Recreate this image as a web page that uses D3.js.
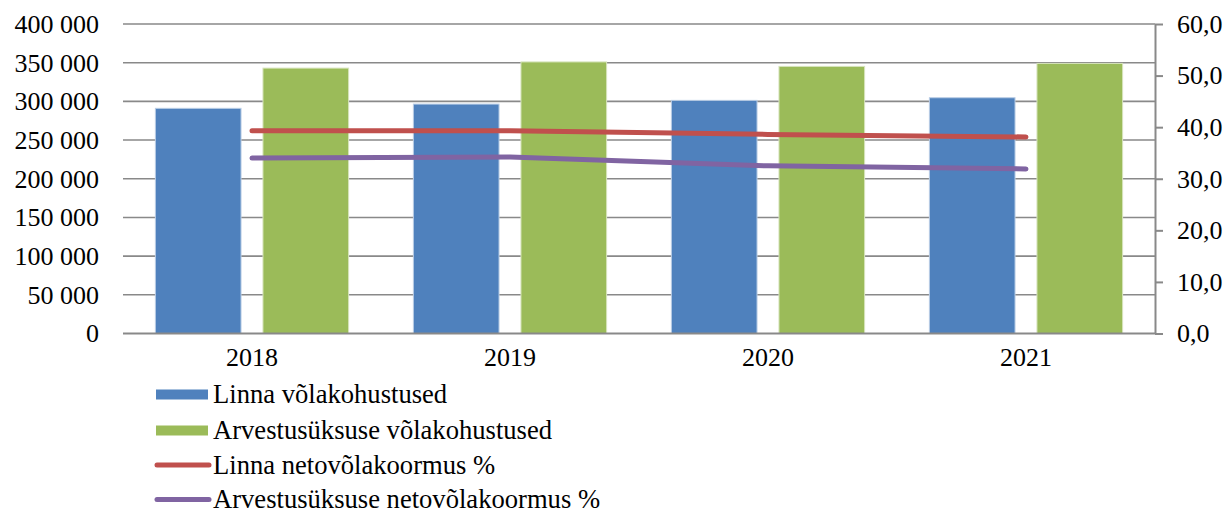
<!DOCTYPE html>
<meta charset="utf-8">
<title>Võlakohustused</title>
<style>
body { margin: 0; background: #fff; }
svg { display: block; font-family: "Liberation Serif", "Times New Roman", serif; }
.grid line { stroke: #898989; stroke-width: 1.6; }
.axis text { font-family: "Liberation Serif", "Times New Roman", serif; font-size: 26px; fill: #000; }
.legend text { font-size: 26.6px; fill: #000; }
</style>
<svg width="1227" height="513"></svg>
<script src="https://d3js.org/d3.v7.min.js"></script>
<script>
const years = ["2018", "2019", "2020", "2021"];
const linnaVolg = [291000, 296500, 301300, 304700];
const arvVolg = [343000, 351000, 345200, 349100];
const linnaKoormus = [39.3, 39.3, 38.6, 38.1];
const arvKoormus = [34.0, 34.2, 32.5, 31.9];
const leftTicks = [0, 50000, 100000, 150000, 200000, 250000, 300000, 350000, 400000];
const rightTicks = [0, 10, 20, 30, 40, 50, 60];

const barSeries = [
  { name: "Linna võlakohustused", values: linnaVolg, color: "#4f81bd", edge: "#b9cde5" },
  { name: "Arvestusüksuse võlakohustused", values: arvVolg, color: "#9bbb59", edge: "#d7e4bd" }
];
const lineSeries = [
  { name: "Linna netovõlakoormus %", values: linnaKoormus, color: "#c0504d" },
  { name: "Arvestusüksuse netovõlakoormus %", values: arvKoormus, color: "#8064a2" }
];

const loc = d3.formatLocale({ decimal: ",", thousands: "\u00a0", grouping: [3], currency: ["", ""] });
const fmtLeft = loc.format(",d");
const fmtRight = loc.format(".1f");

const svg = d3.select("svg");
const plotL = 123, plotR = 1155, plotT = 24, plotB = 333.5;

const x = d3.scaleBand().domain(years).range([plotL, plotR]).paddingInner(0).paddingOuter(0);
const yL = d3.scaleLinear().domain([0, 400000]).range([plotB, plotT]);
const yR = d3.scaleLinear().domain([0, 60]).range([plotB, plotT]);

// bar geometry inside each category
const bw = x.bandwidth();
const barW = bw * 0.332;
const innerGap = bw * 0.085;
const x1 = d3.scaleBand().domain([0, 1]).range([0, 2 * barW + innerGap]).paddingInner(innerGap / (barW + innerGap)).paddingOuter(0);
const groupOffset = (bw - (2 * barW + innerGap)) / 2;

// gridlines
svg.append("g").attr("class", "grid")
  .selectAll("line").data(leftTicks.filter(d => d > 0)).enter().append("line")
  .attr("x1", plotL).attr("x2", plotR)
  .attr("y1", d => yL(d)).attr("y2", d => yL(d));

// bars
barSeries.forEach((s, i) => {
  svg.append("g").selectAll("rect").data(s.values).enter().append("rect")
    .attr("x", (d, j) => x(years[j]) + groupOffset + x1(i))
    .attr("width", x1.bandwidth())
    .attr("y", d => yL(d))
    .attr("height", d => yL(0) - yL(d))
    .attr("fill", s.color)
    .attr("stroke", s.edge)
    .attr("stroke-width", 1);
});

// left axis
const axL = svg.append("g").attr("class", "axis")
  .attr("transform", `translate(${plotL},0)`)
  .call(d3.axisLeft(yL).tickValues(leftTicks).tickFormat(fmtLeft).tickSize(0).tickPadding(24));
axL.attr("font-family", null).attr("font-size", null);
axL.select(".domain").remove();

// bottom axis
const axB = svg.append("g").attr("class", "axis")
  .attr("transform", `translate(0,${plotB})`)
  .call(d3.axisBottom(x).tickSize(0).tickPadding(14));
axB.attr("font-family", null).attr("font-size", null);
axB.select(".domain").attr("stroke", "#898989").attr("stroke-width", 2).attr("d", `M${plotL},0H${plotR}`);

// right axis
const axR = svg.append("g").attr("class", "axis")
  .attr("transform", `translate(${plotR},0)`)
  .call(d3.axisRight(yR).tickValues(rightTicks).tickFormat(fmtRight).tickSize(8).tickSizeOuter(0).tickPadding(14));
axR.attr("font-family", null).attr("font-size", null);
axR.select(".domain").attr("stroke", "#898989").attr("stroke-width", 2);
axR.selectAll(".tick line").attr("stroke", "#898989").attr("stroke-width", 2);

// lines
const line = d3.line().x((d, j) => x(years[j]) + bw / 2).y(d => yR(d));
lineSeries.forEach(s => {
  svg.append("path").datum(s.values)
    .attr("d", line)
    .attr("fill", "none")
    .attr("stroke", s.color)
    .attr("stroke-width", 5)
    .attr("stroke-linecap", "round")
    .attr("stroke-linejoin", "round");
});

// legend
const legend = svg.append("g").attr("class", "legend");
const rowY = [394.5, 430.5, 465, 499.5];
barSeries.forEach((s, i) => {
  const g = legend.append("g").attr("transform", `translate(0,${rowY[i]})`);
  g.append("rect").attr("x", 156).attr("y", -5).attr("width", 52).attr("height", 10).attr("fill", s.color);
  g.append("text").attr("x", 213).attr("dy", "0.33em").text(s.name);
});
lineSeries.forEach((s, i) => {
  const g = legend.append("g").attr("transform", `translate(0,${rowY[i + 2]})`);
  g.append("line").attr("x1", 157).attr("x2", 209).attr("y1", 0).attr("y2", 0)
    .attr("stroke", s.color).attr("stroke-width", 5).attr("stroke-linecap", "round");
  g.append("text").attr("x", 213).attr("dy", "0.33em").text(s.name);
});
</script>
